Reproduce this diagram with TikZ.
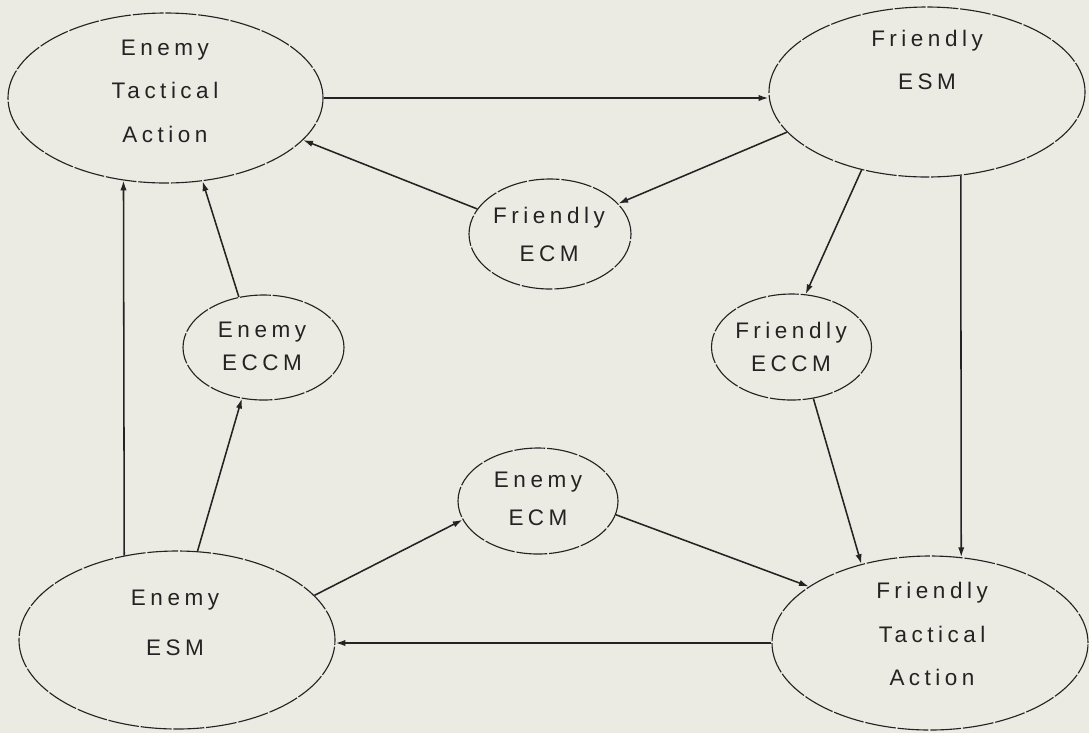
\documentclass[tikz,border=0pt]{standalone}
\usepackage{fontspec}
\setmainfont[LetterSpace=20]{Liberation Sans}
\usetikzlibrary{shapes.geometric,arrows.meta}

\newcommand{\PX}{0.025cm}
\newcommand{\lblfont}[1]{\fontsize{16pt}{#1}\selectfont}
\definecolor{paper}{RGB}{236,235,227}
\definecolor{ink}{RGB}{35,35,35}

\tikzset{
    oval/.style={ellipse, draw=ink, line width=0.8pt, dash pattern=on 22pt off 1.3pt, inner sep=0pt},
    lbl/.style={align=center, inner sep=0pt, text=ink},
    flow/.style={draw=ink, line width=1.1pt, -{Latex[length=7pt,width=4.5pt]}},
}

\begin{document}
\begin{tikzpicture}[x=\PX, y=-\PX]
        \fill[paper] (0,0) rectangle (1089,733);
        \useasboundingbox (0,0) rectangle (1089,733);

        % ovals
        \node[oval, minimum width=315*\PX, minimum height=170*\PX] (eta) at (165.5,98) {};
        \node[oval, minimum width=316*\PX, minimum height=170*\PX] (fesm) at (927,92) {};
        \node[oval, minimum width=162*\PX, minimum height=110*\PX] (fecm) at (550,234) {};
        \node[oval, minimum width=161*\PX, minimum height=105*\PX] (eeccm) at (263.5,347.5) {};
        \node[oval, minimum width=160*\PX, minimum height=106*\PX] (feccm) at (791.5,347) {};
        \node[oval, minimum width=160*\PX, minimum height=106*\PX] (eecm) at (538,501) {};
        \node[oval, minimum width=316*\PX, minimum height=178*\PX] (eesm) at (177,640) {};
        \node[oval, minimum width=316*\PX, minimum height=174*\PX] (fta) at (930,643) {};

        % texts
        \node[lbl, font=\lblfont{31pt}] (eta-t) at (165,91) {Enemy\\Tactical\\Action};
        \node[lbl, font=\lblfont{31pt}] (fesm-t) at (927,60) {Friendly\\ESM};
        \node[lbl, font=\lblfont{27pt}] (fecm-t) at (549,234) {Friendly\\ECM};
        \node[lbl, font=\lblfont{23.5pt}] (eeccm-t) at (262,346.5) {Enemy\\ECCM};
        \node[lbl, font=\lblfont{23pt}] (feccm-t) at (791,347) {Friendly\\ECCM};
        \node[lbl, font=\lblfont{27pt}] (eecm-t) at (538,499) {Enemy\\ECM};
        \node[lbl, font=\lblfont{35.5pt}] (eesm-t) at (175,623) {Enemy\\ESM};
        \node[lbl, font=\lblfont{31pt}] (fta-t) at (932,634) {Friendly\\Tactical\\Action};

        % enemy side
        \draw[flow] (eesm.122.9) -- (eta.-117.5);
        \draw[flow] (eesm.77.2) -- (eeccm.-113.2);
        \draw[flow] (eeccm.116.8) -- (eta.-66.7);
        \draw[flow] (eesm.18.8) -- (eecm.-166.8);
        \draw[flow] (eecm.-10.3) -- (fta.155.9);

        % friendly side
        \draw[flow] (eta.east) -- (eta.east -| fesm.west);
        \draw[flow] (fesm.-164.5) -- (fecm.24.4);
        \draw[flow] (fecm.161.1) -- (eta.-17.3);
        \draw[flow] (fesm.-130.3) -- (feccm.75.7);
        \draw[flow] (fesm.-68.3) -- (fta.70.6);
        \draw[flow] (feccm.-67.7) -- (fta.131.4);
        \draw[flow] (fta.west) -- (fta.west -| eesm.east);

    \end{tikzpicture}
\end{document}
